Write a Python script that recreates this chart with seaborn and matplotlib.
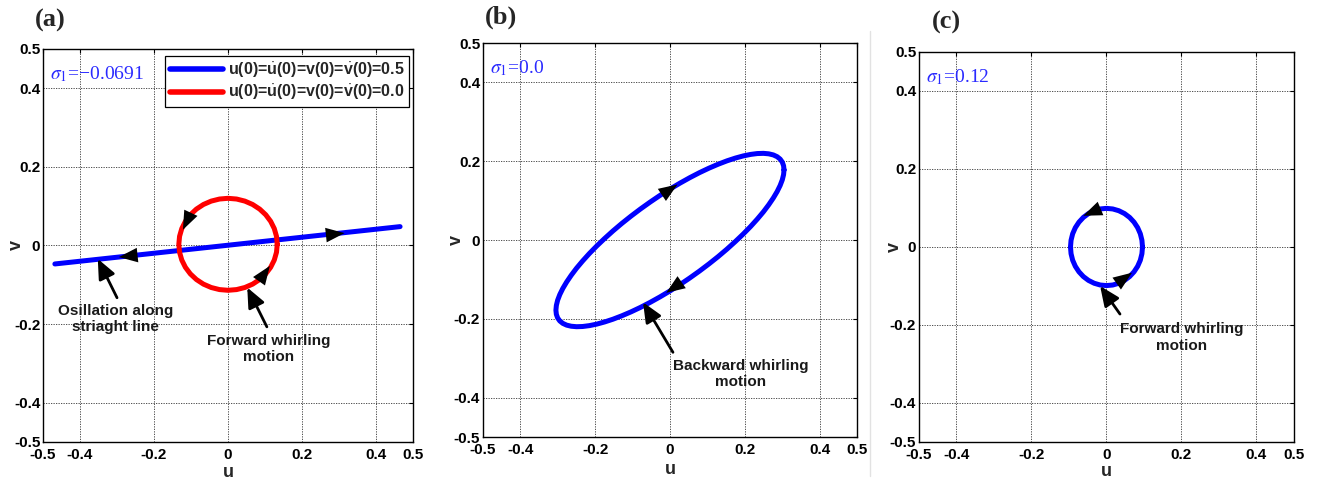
import matplotlib
matplotlib.use("Agg")
import matplotlib.pyplot as plt
import seaborn as sns
import pandas as pd
from matplotlib.lines import Line2D

# ---------------- data ----------------
tick_values = [-0.5, -0.4, -0.2, 0, 0.2, 0.4, 0.5]
tick_labels = ["-0.5", "-0.4", "-0.2", "0", "0.2", "0.4", "0.5"]

panel_letters = ["(a)", "(b)", "(c)"]
sigma_labels = ["$\\sigma_1$=\u22120.0691", "$\\sigma_1$=0.0", "$\\sigma_1$=0.12"]

legend_labels = [r"u(0)=$\dot{\mathbf{u}}$(0)=v(0)=$\dot{\mathbf{v}}$(0)=0.5",
                 r"u(0)=$\dot{\mathbf{u}}$(0)=v(0)=$\dot{\mathbf{v}}$(0)=0.0"]

# (a) blue: oscillation along straight line
a_line_u = [-0.468, 0.465]
a_line_v = [-0.047, 0.048]
# (a) red: forward whirling circle
a_circ_u = [0.133, 0.1310, 0.1250, 0.1152, 0.1019, 0.0855, 0.0665, 0.0455, 0.0231, 0.0,
            -0.0231, -0.0455, -0.0665, -0.0855, -0.1019, -0.1152, -0.1250, -0.1310,
            -0.133, -0.1310, -0.1250, -0.1152, -0.1019, -0.0855, -0.0665, -0.0455, -0.0231, 0.0,
            0.0231, 0.0455, 0.0665, 0.0855, 0.1019, 0.1152, 0.1250, 0.1310, 0.133]
a_circ_v = [0.003, 0.0233, 0.0430, 0.0615, 0.0782, 0.0926, 0.1043, 0.1129, 0.1182, 0.120,
            0.1182, 0.1129, 0.1043, 0.0926, 0.0782, 0.0615, 0.0430, 0.0233,
            0.003, -0.0173, -0.0370, -0.0555, -0.0722, -0.0866, -0.0983, -0.1069, -0.1122, -0.114,
            -0.1122, -0.1069, -0.0983, -0.0866, -0.0722, -0.0555, -0.0370, -0.0173, 0.003]
# (b) blue: backward whirling ellipse
b_ell_u = [0.3050, 0.3038, 0.3004, 0.2946, 0.2866, 0.2764, 0.2641, 0.2499, 0.2336, 0.2157, 0.1961, 0.1749,
           0.1525, 0.1289, 0.1043, 0.0789, 0.0529, 0.0266, 0.0, -0.0266, -0.0529, -0.0789, -0.1043, -0.1289,
           -0.1525, -0.1749, -0.1961, -0.2157, -0.2336, -0.2499, -0.2641, -0.2764, -0.2866, -0.2946, -0.3004, -0.3038,
           -0.3050, -0.3038, -0.3004, -0.2946, -0.2866, -0.2764, -0.2641, -0.2499, -0.2336, -0.2157, -0.1961, -0.1749,
           -0.1525, -0.1289, -0.1043, -0.0789, -0.0529, -0.0266, 0.0, 0.0266, 0.0529, 0.0789, 0.1043, 0.1289,
           0.1525, 0.1749, 0.1961, 0.2157, 0.2336, 0.2499, 0.2641, 0.2764, 0.2866, 0.2946, 0.3004, 0.3038, 0.3050]
b_ell_v = [0.1780, 0.1886, 0.1977, 0.2054, 0.2115, 0.2160, 0.2188, 0.2200, 0.2195, 0.2173, 0.2135, 0.2080,
           0.2010, 0.1924, 0.1824, 0.1710, 0.1582, 0.1443, 0.1293, 0.1133, 0.0964, 0.0788, 0.0606, 0.0420,
           0.0230, 0.0038, -0.0154, -0.0344, -0.0532, -0.0716, -0.0895, -0.1067, -0.1230, -0.1384, -0.1528, -0.1660,
           -0.1780, -0.1886, -0.1977, -0.2054, -0.2115, -0.2160, -0.2188, -0.2200, -0.2195, -0.2173, -0.2135, -0.2080,
           -0.2010, -0.1924, -0.1824, -0.1710, -0.1582, -0.1443, -0.1293, -0.1133, -0.0964, -0.0788, -0.0606, -0.0420,
           -0.0230, -0.0038, 0.0154, 0.0344, 0.0532, 0.0716, 0.0895, 0.1067, 0.1230, 0.1384, 0.1528, 0.1660, 0.1780]
# (c) blue: forward whirling circle
c_circ_u = [0.096, 0.0945, 0.0902, 0.0831, 0.0735, 0.0617, 0.048, 0.0328, 0.0167, 0.0,
            -0.0167, -0.0328, -0.048, -0.0617, -0.0735, -0.0831, -0.0902, -0.0945,
            -0.096, -0.0945, -0.0902, -0.0831, -0.0735, -0.0617, -0.048, -0.0328, -0.0167, 0.0,
            0.0167, 0.0328, 0.048, 0.0617, 0.0735, 0.0831, 0.0902, 0.0945, 0.096]
c_circ_v = [0.0, 0.0172, 0.0339, 0.0495, 0.0636, 0.0758, 0.0857, 0.0930, 0.0975, 0.099,
            0.0975, 0.0930, 0.0857, 0.0758, 0.0636, 0.0495, 0.0339, 0.0172,
            0.0, -0.0172, -0.0339, -0.0495, -0.0636, -0.0758, -0.0857, -0.0930, -0.0975, -0.099,
            -0.0975, -0.0930, -0.0857, -0.0758, -0.0636, -0.0495, -0.0339, -0.0172, 0.0]

annot_texts = ["Osillation along\nstriaght line", "Forward whirling\nmotion",
               "Backward whirling\nmotion", "Forward whirling\nmotion"]

# ---------------- styling ----------------
sns.set_theme(style="white")
plt.rcParams["font.family"] = ["Liberation Sans", "DejaVu Sans"]
plt.rcParams["mathtext.fontset"] = "custom"
plt.rcParams["mathtext.rm"] = "Liberation Sans"
plt.rcParams["mathtext.it"] = "Liberation Sans:italic"
plt.rcParams["mathtext.bf"] = "Liberation Sans:bold"

BLUE = "#0000ff"
RED = "#ff0000"
SIGMA_C = "#2a2aff"

fig = plt.figure(figsize=(13.2, 4.83), dpi=100)
axA = fig.add_axes([0.0326, 0.0849, 0.2803, 0.8137])
axB = fig.add_axes([0.3659, 0.0952, 0.2833, 0.8157])
axC = fig.add_axes([0.6962, 0.0849, 0.2841, 0.8075])
axes = [axA, axB, axC]
ylabel_x = [-0.049, -0.048, -0.042]
xlabel_y = [-0.057, -0.06, -0.054]


def draw_curve(ax, u, v, color):
    df = pd.DataFrame({"u": u, "v": v})
    sns.lineplot(data=df, x="u", y="v", sort=False, estimator=None, ax=ax,
                 color=color, lw=3.6, solid_capstyle="round", solid_joinstyle="round", zorder=3)


draw_curve(axA, a_line_u, a_line_v, BLUE)
draw_curve(axA, a_circ_u, a_circ_v, RED)
draw_curve(axB, b_ell_u, b_ell_v, BLUE)
draw_curve(axC, c_circ_u, c_circ_v, BLUE)

for i, ax in enumerate(axes):
    ax.set_xlim(-0.5, 0.5)
    ax.set_ylim(-0.5, 0.5)
    ax.set_xticks(tick_values)
    ax.set_xticklabels(tick_labels)
    ax.set_yticks(tick_values)
    ax.set_yticklabels(tick_labels)
    ax.tick_params(axis="both", direction="in", length=3, width=0.8, top=True, right=True,
                   labelsize=11, colors="black")
    ax.tick_params(axis="x", pad=4)
    ax.tick_params(axis="y", pad=2)
    for lab in ax.get_xticklabels() + ax.get_yticklabels():
        lab.set_fontweight("bold")
    ax.grid(True, color="#333333", linestyle=(0, (1.5, 1.5)), linewidth=0.6)
    for s in ax.spines.values():
        s.set_visible(True)
        s.set_color("black")
        s.set_linewidth(1.0)
    ax.set_xlabel("u", fontsize=13, fontweight="bold")
    ax.xaxis.set_label_coords(0.5, xlabel_y[i])
    ax.set_ylabel("v", fontsize=13, fontweight="bold")
    ax.yaxis.set_label_coords(ylabel_x[i], 0.5)
    t = ax.text(0.02, 0.935, sigma_labels[i], transform=ax.transAxes, fontsize=14,
                color=SIGMA_C, family="Liberation Serif", va="center", ha="left")
    t.set_math_fontfamily("stix")

# panel letters
fig.text(0.0265, 0.958, panel_letters[0], fontsize=19, fontweight="bold", family="Liberation Serif", va="center")
fig.text(0.367, 0.964, panel_letters[1], fontsize=19, fontweight="bold", family="Liberation Serif", va="center")
fig.text(0.706, 0.953, panel_letters[2], fontsize=19, fontweight="bold", family="Liberation Serif", va="center")

# thin divider line between (b) and (c) as in the source image
fig.add_artist(Line2D([0.659, 0.659], [0.015, 0.935], transform=fig.transFigure, color="#e2e2e2", lw=1))

# legend in (a)
handles = [Line2D([0], [0], color=BLUE, lw=4), Line2D([0], [0], color=RED, lw=4)]
leg = axA.legend(handles, legend_labels, loc="upper right", bbox_to_anchor=(0.99, 0.982),
                 prop={"weight": "bold", "size": 11.5}, frameon=True, fancybox=False,
                 framealpha=1, edgecolor="black", handlelength=3.3, borderpad=0.3,
                 labelspacing=0.2, handletextpad=0.3, borderaxespad=0)
leg.get_frame().set_linewidth(0.9)


def dir_arrow(ax, tip, tail):
    ax.annotate("", xy=tip, xytext=tail,
                arrowprops=dict(arrowstyle="-|>,head_length=0.9,head_width=0.35", color="black",
                                lw=0, mutation_scale=15, shrinkA=0, shrinkB=0), zorder=5)


# direction arrows on trajectories
dir_arrow(axA, (0.315, 0.0315), (0.25, 0.025))
dir_arrow(axA, (-0.295, -0.0295), (-0.23, -0.023))
dir_arrow(axA, (-0.122, 0.04), (-0.106, 0.072))
dir_arrow(axA, (0.113, -0.052), (0.092, -0.08))
dir_arrow(axB, (0.02, 0.141), (-0.035, 0.106))
dir_arrow(axB, (-0.01, -0.134), (0.045, -0.098))
dir_arrow(axC, (-0.062, 0.08), (-0.02, 0.097))
dir_arrow(axC, (0.068, -0.066), (0.03, -0.092))


def text_arrow(ax, text, tip, start, textpos):
    ax.annotate("", xy=tip, xytext=start,
                arrowprops=dict(arrowstyle="-|>,head_length=0.8,head_width=0.35", color="black",
                                lw=2, mutation_scale=15, shrinkA=0, shrinkB=0), zorder=6)
    ax.text(textpos[0], textpos[1], text, ha="center", va="center", fontsize=11,
            fontweight="bold", color="#1a1a1a", linespacing=1.2, zorder=6)


text_arrow(axA, annot_texts[0], (-0.352, -0.034), (-0.3, -0.133), (-0.305, -0.187))
text_arrow(axA, annot_texts[1], (0.052, -0.107), (0.105, -0.207), (0.11, -0.263))
text_arrow(axB, annot_texts[2], (-0.072, -0.158), (0.008, -0.285), (0.19, -0.34))
text_arrow(axC, annot_texts[3], (-0.017, -0.1), (0.036, -0.172), (0.2, -0.232))

fig.savefig("out.png", dpi=100)
